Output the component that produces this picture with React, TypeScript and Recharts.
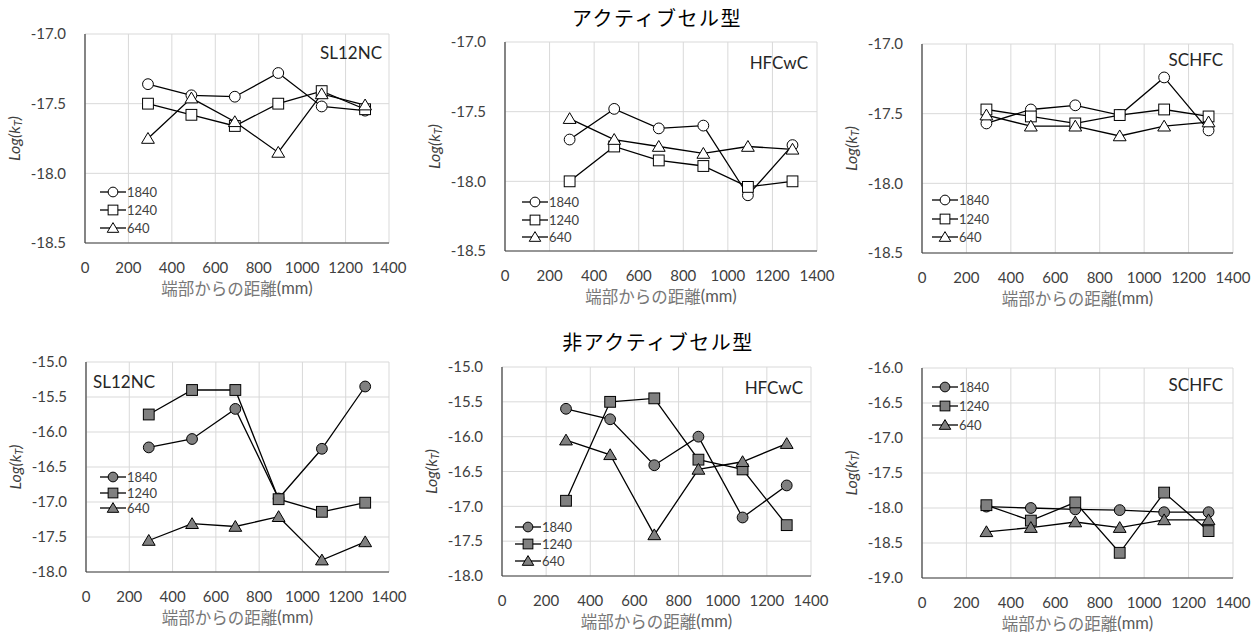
import { CartesianGrid, Legend, Line, LineChart, XAxis, YAxis } from "recharts";

// 端部からの距離 (mm)
const positions = [290, 490, 690, 890, 1090, 1290];
const xTicks = [0, 200, 400, 600, 800, 1000, 1200, 1400];
const seriesNames = ["1840", "1240", "640"];

const ticksActive = [-18.5, -18, -17.5, -17];
const ticksNonSL = [-18, -17.5, -17, -16.5, -16, -15.5, -15];
const ticksNonHF = [-18, -17.5, -17, -16.5, -16, -15.5, -15];
const ticksNonSC = [-19, -18.5, -18, -17.5, -17, -16.5, -16];

// アクティブセル型
const aSL_1840 = [-17.36, -17.44, -17.45, -17.28, -17.52, -17.55];
const aSL_1240 = [-17.5, -17.58, -17.66, -17.5, -17.41, -17.54];
const aSL_640 = [-17.75, -17.46, -17.63, -17.85, -17.43, -17.51];
const aHF_1840 = [-17.7, -17.48, -17.62, -17.6, -18.1, -17.74];
const aHF_1240 = [-18.0, -17.75, -17.85, -17.89, -18.04, -18.0];
const aHF_640 = [-17.55, -17.7, -17.75, -17.8, -17.75, -17.77];
const aSC_1840 = [-17.57, -17.47, -17.44, -17.51, -17.24, -17.62];
const aSC_1240 = [-17.47, -17.52, -17.57, -17.51, -17.47, -17.52];
const aSC_640 = [-17.51, -17.59, -17.59, -17.66, -17.59, -17.56];

// 非アクティブセル型
const nSL_1840 = [-16.22, -16.1, -15.67, -16.95, -16.24, -15.35];
const nSL_1240 = [-15.75, -15.4, -15.4, -16.96, -17.14, -17.01];
const nSL_640 = [-17.55, -17.31, -17.35, -17.21, -17.83, -17.57];
const nHF_1840 = [-15.6, -15.75, -16.41, -16.0, -17.16, -16.7];
const nHF_1240 = [-16.92, -15.5, -15.45, -16.33, -16.47, -17.27];
const nHF_640 = [-16.05, -16.26, -17.41, -16.47, -16.36, -16.1];
const nSC_1840 = [-17.98, -18.0, -18.02, -18.03, -18.06, -18.06];
const nSC_1240 = [-17.96, -18.18, -17.92, -18.64, -17.78, -18.33];
const nSC_640 = [-18.34, -18.28, -18.2, -18.28, -18.17, -18.17];

const FONT = "Lato, 'Noto Sans', sans-serif";
const CJK = "'Noto Sans CJK JP', sans-serif";
const TEXT = "#404040";
const Y_AXIS_W = 85;
const TOP = 10;
const X_AXIS_H = 60;
const RIGHT = 30;

type Shape = "circle" | "square" | "triangle";
const shapes: Shape[] = ["circle", "square", "triangle"];

function Marker({ shape, cx, cy, fill, s = 1 }: { shape: Shape; cx: number; cy: number; fill: string; s?: number }) {
  if (shape === "circle") {
    return <circle cx={cx} cy={cy} r={5.4 * s} fill={fill} stroke="#000" strokeWidth={1} />;
  }
  if (shape === "square") {
    const h = 5.4 * s;
    return <rect x={cx - h} y={cy - h} width={h * 2} height={h * 2} fill={fill} stroke="#000" strokeWidth={1} />;
  }
  const w = 6.4 * s;
  return (
    <path
      d={`M${cx},${cy - 6 * s} L${cx + w},${cy + 4.8 * s} L${cx - w},${cy + 4.8 * s} Z`}
      fill={fill}
      stroke="#000"
      strokeWidth={1}
    />
  );
}

type PanelProps = {
  name: string;
  nameAlign: "left" | "right";
  nameDx: number;
  nameDy: number;
  left: number;
  top: number;
  w: number;
  h: number;
  ticks: number[];
  series: number[][];
  filled: boolean;
  legendDx: number;
  legendDy: number;
  legendRow: number;
};

function Panel(p: PanelProps) {
  const fill = p.filled ? "#808080" : "#ffffff";
  const data = positions.map((x, i) => ({
    x,
    s1840: p.series[0][i],
    s1240: p.series[1][i],
    s640: p.series[2][i],
  }));
  const keys = ["s1840", "s1240", "s640"];
  const chartW = Y_AXIS_W + p.w + RIGHT;
  const chartH = TOP + p.h + X_AXIS_H;
  const domain: [number, number] = [p.ticks[0], p.ticks[p.ticks.length - 1]];

  const yTitle = () => {
    const x = Y_AXIS_W - 72;
    const y = TOP + p.h / 2;
    return (
      <text
        x={x}
        y={y}
        transform={`rotate(-90, ${x}, ${y})`}
        textAnchor="middle"
        dominantBaseline="central"
        fontSize={16}
        fontStyle="italic"
        fontFamily={FONT}
        fill={TEXT}
      >
        Log(k
        <tspan fontSize={11} dy={4}>
          T
        </tspan>
        <tspan dy={-4}>)</tspan>
      </text>
    );
  };

  const xTitle = () => (
    <text
      x={Y_AXIS_W + p.w / 2}
      y={TOP + p.h + 45}
      textAnchor="middle"
      dominantBaseline="central"
      fontSize={16.5}
      fontFamily={CJK}
      fill="#777777"
    >
      端部からの距離
      <tspan fontFamily={FONT} fill="#595959">
        (mm)
      </tspan>
    </text>
  );

  const renderLegend = (props: any) => {
    const payload = [...(props.payload || [])].sort(
      (a: any, b: any) => keys.indexOf(String(a.dataKey)) - keys.indexOf(String(b.dataKey))
    );
    return (
      <div style={{ display: "flex", flexDirection: "column" }}>
        {payload.map((entry: any) => {
          const idx = keys.indexOf(String(entry.dataKey));
          return (
            <div key={String(entry.dataKey)} style={{ display: "flex", alignItems: "center", height: p.legendRow }}>
              <svg width={26} height={14} style={{ display: "block" }}>
                <line x1={0} y1={7} x2={26} y2={7} stroke="#000" strokeWidth={1.3} />
                <Marker shape={shapes[idx]} cx={13} cy={7} fill={fill} s={0.9} />
              </svg>
              <span style={{ fontSize: 13, fontFamily: FONT, color: TEXT, marginLeft: 1, lineHeight: "14px" }}>
                {entry.value}
              </span>
            </div>
          );
        })}
      </div>
    );
  };

  const nameStyle: React.CSSProperties =
    p.nameAlign === "right"
      ? { left: p.left + p.w - p.nameDx - 120, width: 120, textAlign: "right" }
      : { left: p.left + p.nameDx, width: 120, textAlign: "left" };

  return (
    <>
      <div style={{ position: "absolute", left: p.left - Y_AXIS_W, top: p.top - TOP }}>
        <LineChart width={chartW} height={chartH} data={data} margin={{ top: TOP, right: RIGHT, bottom: 0, left: 0 }}>
          <CartesianGrid stroke="#d9d9d9" strokeWidth={1} />
          <XAxis
            type="number"
            dataKey="x"
            domain={[0, 1400]}
            ticks={xTicks}
            interval={0}
            height={X_AXIS_H}
            tickLine={false}
            tickSize={0}
            tickMargin={19}
            axisLine={{ stroke: "#404040", strokeWidth: 1.2 }}
            tick={{ fill: TEXT, fontSize: 15, fontFamily: FONT }}
            label={xTitle}
          />
          <YAxis
            type="number"
            domain={domain}
            ticks={p.ticks}
            interval={0}
            width={Y_AXIS_W}
            tickLine={false}
            tickSize={0}
            tickMargin={19}
            axisLine={{ stroke: "#404040", strokeWidth: 1.2 }}
            tick={{ fill: TEXT, fontSize: 15, fontFamily: FONT }}
            tickFormatter={(v) => Number(v).toFixed(1)}
            label={yTitle}
          />
          <Legend
            layout="vertical"
            align="center"
            verticalAlign="middle"
            content={renderLegend}
            wrapperStyle={{
              left: Y_AXIS_W + p.legendDx,
              top: TOP + p.legendDy - p.legendRow / 2,
              width: "auto",
              height: "auto",
            }}
          />
          {keys.map((k, i) => (
            <Line
              key={k}
              type="linear"
              dataKey={k}
              name={seriesNames[i]}
              stroke="#000"
              strokeWidth={1.3}
              isAnimationActive={false}
              activeDot={false}
              dot={(d: any) => (
                <Marker key={`${k}-${d.index}`} shape={shapes[i]} cx={d.cx} cy={d.cy} fill={fill} />
              )}
            />
          ))}
        </LineChart>
      </div>
      <div
        style={{
          position: "absolute",
          top: p.top + p.nameDy - 11,
          lineHeight: "22px",
          fontSize: 17,
          fontFamily: FONT,
          color: "#262626",
          ...nameStyle,
        }}
      >
        {p.name}
      </div>
    </>
  );
}

const titleStyle: React.CSSProperties = {
  position: "absolute",
  width: 300,
  textAlign: "center",
  fontFamily: CJK,
  fontSize: 20,
  letterSpacing: 1.5,
  lineHeight: "26px",
  color: "#000",
};

export default function App() {
  return (
    <div style={{ position: "absolute", left: 0, top: 0, width: 1260, height: 635, background: "#fff", overflow: "hidden" }}>
      <div style={{ ...titleStyle, left: 657 - 150, top: 18 - 13 }}>アクティブセル型</div>
      <div style={{ ...titleStyle, left: 658 - 150, top: 342 - 13 }}>非アクティブセル型</div>

      <Panel name="SL12NC" nameAlign="right" nameDx={7} nameDy={19} left={85} top={34} w={304} h={209}
        ticks={ticksActive} series={[aSL_1840, aSL_1240, aSL_640]} filled={false}
        legendDx={15} legendDy={158} legendRow={18} />
      <Panel name="HFCwC" nameAlign="right" nameDx={9} nameDy={21} left={505} top={42} w={312} h={209}
        ticks={ticksActive} series={[aHF_1840, aHF_1240, aHF_640]} filled={false}
        legendDx={17} legendDy={160} legendRow={17.5} />
      <Panel name="SCHFC" nameAlign="right" nameDx={10} nameDy={16} left={922} top={44} w={311} h={209}
        ticks={ticksActive} series={[aSC_1840, aSC_1240, aSC_640]} filled={false}
        legendDx={10} legendDy={156} legendRow={18.5} />

      <Panel name="SL12NC" nameAlign="left" nameDx={7} nameDy={20} left={86} top={362} w={303} h={210}
        ticks={ticksNonSL} series={[nSL_1840, nSL_1240, nSL_640]} filled={true}
        legendDx={14} legendDy={115} legendRow={15.5} />
      <Panel name="HFCwC" nameAlign="right" nameDx={8} nameDy={21} left={502} top={367} w={309} h={209}
        ticks={ticksNonHF} series={[nHF_1840, nHF_1240, nHF_640]} filled={true}
        legendDx={13} legendDy={160} legendRow={17} />
      <Panel name="SCHFC" nameAlign="right" nameDx={10} nameDy={17} left={922} top={368} w={311} h={210}
        ticks={ticksNonSC} series={[nSC_1840, nSC_1240, nSC_640]} filled={true}
        legendDx={10} legendDy={19} legendRow={19} />
    </div>
  );
}
